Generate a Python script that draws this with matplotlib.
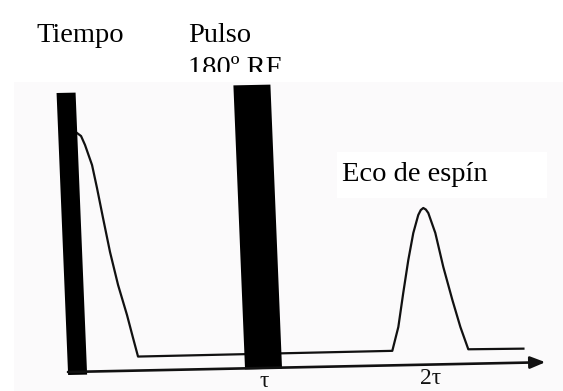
import numpy as np
import matplotlib
matplotlib.use("Agg")
import matplotlib.pyplot as plt
from matplotlib.patches import Rectangle
from matplotlib.transforms import Affine2D, Bbox, TransformedBbox

# RF pulses: start along the time axis, width, bottom and top of each bar
pulse_t0 = [0.0, 177.0]
pulse_w = [19.0, 37.0]
pulse_bottom = [-3.0, -1.0]
pulse_top = [279.0, 283.0]

# free induction decay after the 90 deg pulse
fid_t = [18.8, 22.7, 26.3, 32.5, 36.5, 41.3, 46.9, 53.6, 61.3, 66.4, 70.6]
fid_a = [238.6, 235.5, 226.5, 206.3, 183.3, 153.2, 119.0, 85.9, 55.7, 32.6, 14.0]

# spin echo around 2 tau, then the flat tail
echo_t = [324.9, 331.9, 338.2, 344.6, 350.7, 356.4, 359.1, 361.7, 364.2,
          366.5, 372.7, 379.3, 387.0, 393.9, 400.9, 456.0]
echo_a = [14.5, 38.2, 72.1, 104.9, 131.8, 149.7, 154.6, 156.6, 155.0,
          151.5, 131.4, 97.2, 64.1, 36.9, 14.5, 14.0]

axis_end = 477.4
tick_t = [195.5, 361.7]
tick_labels = ["τ", "2τ"]

serif = ["Liberation Serif", "DejaVu Serif"]

fig = plt.figure(figsize=(5.63, 3.91), dpi=100)
ax = fig.add_axes([0, 0, 1, 1])
ax.set_xlim(0, 563)
ax.set_ylim(391, 0)
ax.axis("off")

# the sketch sits a little skewed on the page: time runs along tr's x, signal along its y
tr = Affine2D(np.array([[1.0, -0.041, 68.0],
                        [-0.0205, -1.0, 372.0],
                        [0.0, 0.0, 1.0]])) + ax.transData

# faint paper tone of the sketch and the white box behind the echo label
ax.add_patch(Rectangle((14, 82), 549, 309, color="#fbfafb", lw=0, zorder=0))
ax.add_patch(Rectangle((337, 152), 210, 46, color="white", lw=0, zorder=1))

sig_t = fid_t + echo_t
sig_a = fid_a + echo_a
ax.plot(sig_t, sig_a, color="#111111", lw=1.6, transform=tr,
        solid_joinstyle="round", zorder=2)

for t0, w, b, top in zip(pulse_t0, pulse_w, pulse_bottom, pulse_top):
    ax.add_patch(Rectangle((t0, b), w, top - b, color="black", lw=0,
                           transform=tr, zorder=3))

ax.annotate("", xy=(axis_end, 0), xytext=(0, 0), xycoords=tr, textcoords=tr,
            arrowprops=dict(arrowstyle="-|>,head_length=0.45,head_width=0.18",
                            mutation_scale=20, lw=1.9, color="#111111",
                            shrinkA=0, shrinkB=0), zorder=3)

for t, lab in zip(tick_t, tick_labels):
    ax.text(t, -19.5, lab, transform=tr, ha="center", va="baseline",
            fontsize=17, family=serif, color="#111111")

ax.text(36, 42, "Tiempo", ha="left", va="baseline", fontsize=20.5, family=serif)
ax.text(188, 42, "Pulso", ha="left", va="baseline", fontsize=20.5, family=serif)
second = ax.text(188, 75, "180º RF", ha="left", va="baseline",
                 fontsize=20.5, family=serif)
# the second line of the pulse label is cut by its box
second.set_clip_on(True)
second.set_clip_box(TransformedBbox(Bbox([[0, 0], [563, 72]]), ax.transData))
ax.text(342, 181, "Eco de espín", ha="left", va="baseline", fontsize=20.5,
        family=serif, zorder=4)

fig.savefig("out.png", dpi=100)
